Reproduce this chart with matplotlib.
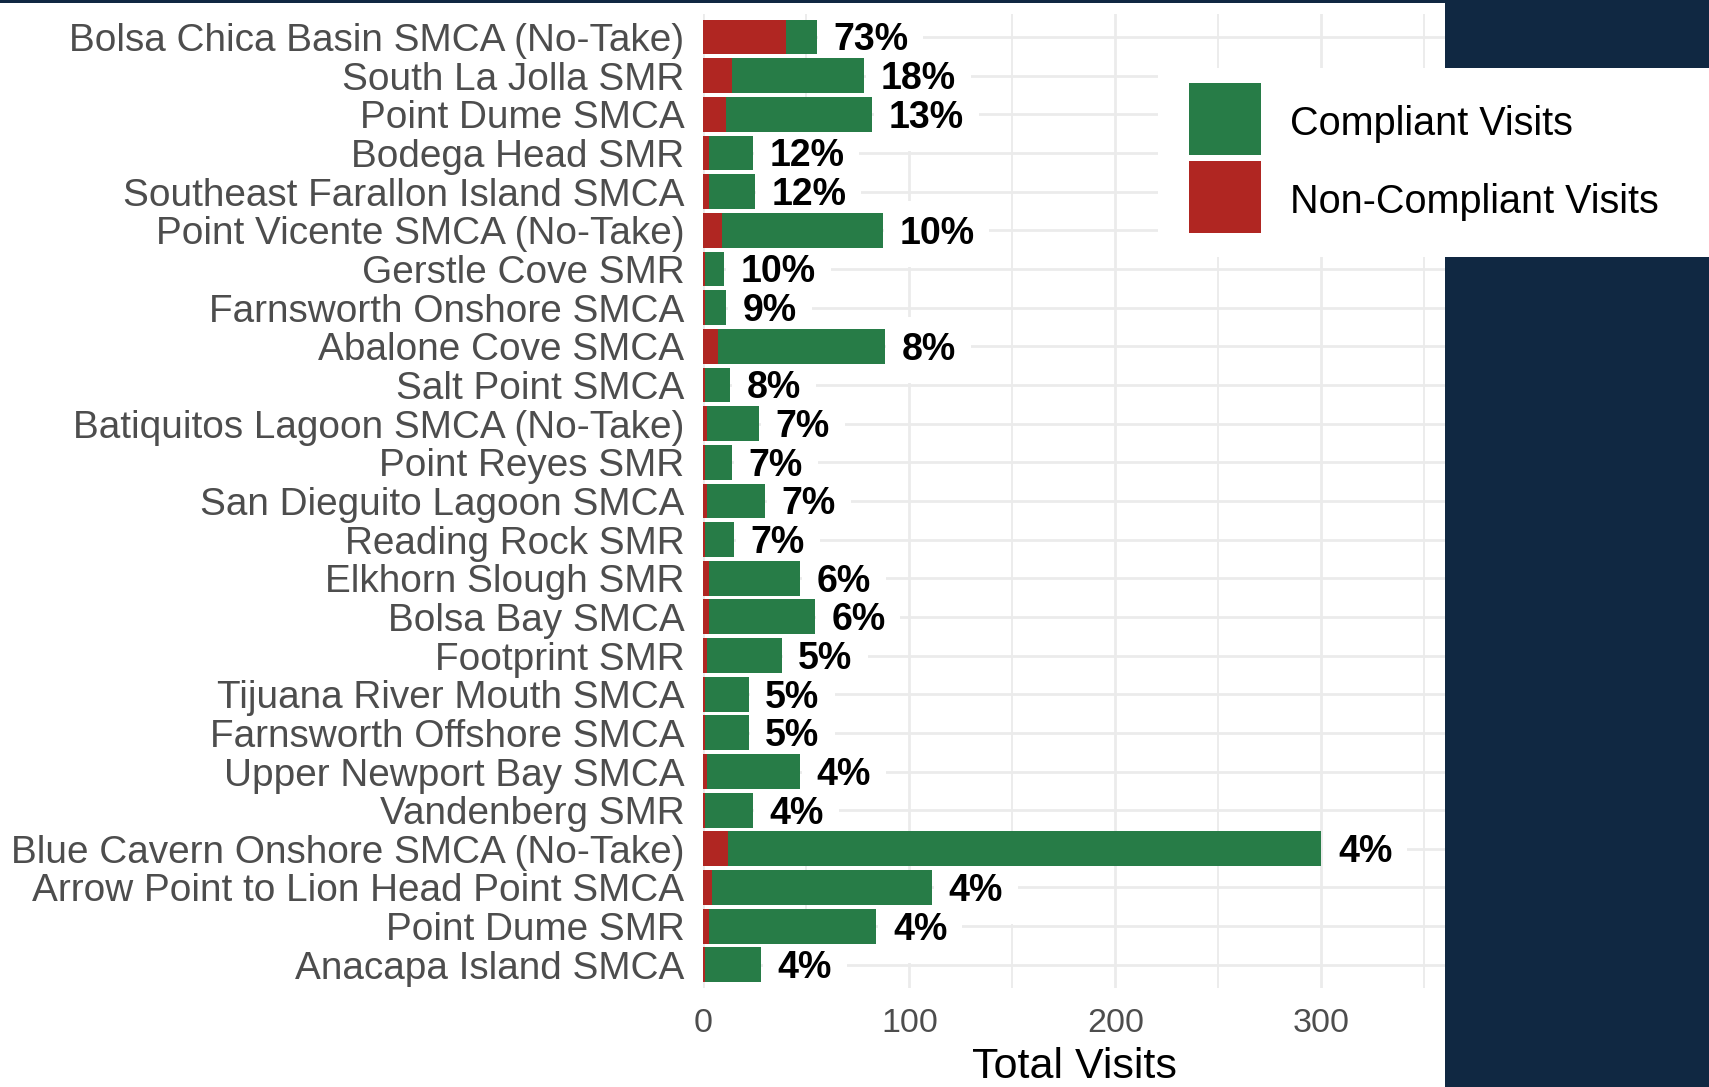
import matplotlib
matplotlib.use("Agg")
import matplotlib.pyplot as plt
from matplotlib.patches import Rectangle
import numpy as np

plt.rcParams['font.family'] = ['Liberation Sans', 'DejaVu Sans']

sites = [
    "Bolsa Chica Basin SMCA (No-Take)", "South La Jolla SMR", "Point Dume SMCA",
    "Bodega Head SMR", "Southeast Farallon Island SMCA", "Point Vicente SMCA (No-Take)",
    "Gerstle Cove SMR", "Farnsworth Onshore SMCA", "Abalone Cove SMCA", "Salt Point SMCA",
    "Batiquitos Lagoon SMCA (No-Take)", "Point Reyes SMR", "San Dieguito Lagoon SMCA",
    "Reading Rock SMR", "Elkhorn Slough SMR", "Bolsa Bay SMCA", "Footprint SMR",
    "Tijuana River Mouth SMCA", "Farnsworth Offshore SMCA", "Upper Newport Bay SMCA",
    "Vandenberg SMR", "Blue Cavern Onshore SMCA (No-Take)",
    "Arrow Point to Lion Head Point SMCA", "Point Dume SMR", "Anacapa Island SMCA",
]
total_visits = [55, 78, 82, 24, 25, 87, 10, 11, 88, 13, 27, 14, 30, 15, 47, 54, 38,
                22, 22, 47, 24, 300, 111, 84, 28]
noncompliant_visits = [40, 14, 11, 3, 3, 9, 1, 1, 7, 1, 2, 1, 2, 1, 3, 3, 2,
                       1, 1, 2, 1, 12, 4, 3, 1]
pct_labels = ["73%", "18%", "13%", "12%", "12%", "10%", "10%", "9%", "8%", "8%",
              "7%", "7%", "7%", "7%", "6%", "6%", "5%", "5%", "5%", "4%", "4%",
              "4%", "4%", "4%", "4%"]
x_ticks = [0, 100, 200, 300]
legend_labels = ["Compliant Visits", "Non-Compliant Visits"]

GREEN = "#277C47"
RED = "#B02622"
NAVY = "#102842"

W, H = 1709, 1087
fig = plt.figure(figsize=(W / 100, H / 100), dpi=100)
fig.patch.set_facecolor("white")

def fx(px):
    return px / W

def fy(py):
    return 1 - py / H

left_px, right_px, top_px, bot_px = 703.3, 1445, 13.8, 988
ax = fig.add_axes([fx(left_px), fy(bot_px), fx(right_px - left_px), (bot_px - top_px) / H])

total = np.array(total_visits, dtype=float)
nc = np.array(noncompliant_visits, dtype=float)
comp = total - nc
y = np.arange(len(sites))

ax.barh(y, nc, height=0.9, color=RED, zorder=3, linewidth=0)
ax.barh(y, comp, left=nc, height=0.9, color=GREEN, zorder=3, linewidth=0)

LFS = 27
cap_half = 0.716 * LFS / 2
for yi, t, lab in zip(y, total, pct_labels):
    # white label background (below bars, above grid)
    ax.annotate(lab, xy=(t, yi), xytext=(12, -cap_half), textcoords="offset points",
                ha="left", va="baseline", fontsize=LFS, fontweight="bold", color="white",
                zorder=2.5,
                bbox=dict(boxstyle="square,pad=0.4", facecolor="white", edgecolor="none"))
    # label text on top
    ax.annotate(lab, xy=(t, yi), xytext=(12, -cap_half), textcoords="offset points",
                ha="left", va="baseline", fontsize=LFS, fontweight="bold", color="black",
                zorder=5)

ax.set_xlim(0, 360)
ax.set_ylim(len(sites) - 1 + 0.6, -0.6)
ax.set_yticks(y)
ax.set_yticklabels(sites, fontsize=27.9, color="#4D4D4D")
ax.set_xticks(x_ticks)
ax.set_xticklabels([str(v) for v in x_ticks], fontsize=24.5, color="#4D4D4D")
ax.set_xticks([50, 150, 250, 350], minor=True)
ax.tick_params(axis="both", which="both", length=0)
ax.tick_params(axis="y", pad=13.5)
ax.tick_params(axis="x", pad=14.5)

ax.set_axisbelow(True)
ax.grid(True, which="major", color="#EBEBEB", linewidth=2.0, zorder=0)
ax.grid(True, which="minor", axis="x", color="#EBEBEB", linewidth=1.3, zorder=0)
for s in ax.spines.values():
    s.set_visible(False)

ax.set_xlabel("Total Visits", fontsize=31, color="black")
ax.xaxis.label.set_va("center")
ax.xaxis.set_label_coords(0.5, -(1067 - bot_px) / (bot_px - top_px))

# dark frame around the chart
fig.patches.append(Rectangle((0, fy(3)), 1, 3 / H, transform=fig.transFigure,
                             facecolor=NAVY, edgecolor="none", zorder=10))
fig.patches.append(Rectangle((fx(1445), 0), 1 - fx(1445), 1, transform=fig.transFigure,
                             facecolor=NAVY, edgecolor="none", zorder=10))

# legend
fig.patches.append(Rectangle((fx(1158), fy(257)), 1 - fx(1158), (257 - 68) / H,
                             transform=fig.transFigure, facecolor="white",
                             edgecolor="none", zorder=11))
LEG_FS = 28.5
leg_cap_px = 0.716 * LEG_FS * 100 / 72
for (ytop, col, lab) in [(83, GREEN, legend_labels[0]), (161, RED, legend_labels[1])]:
    fig.patches.append(Rectangle((fx(1189), fy(ytop + 72)), 72 / W, 72 / H,
                                 transform=fig.transFigure, facecolor=col,
                                 edgecolor="none", zorder=12))
    fig.text(fx(1290), fy(ytop + 38 + leg_cap_px / 2), lab, fontsize=LEG_FS, color="black",
             ha="left", va="baseline", zorder=13)

fig.savefig("out.png", dpi=100)
